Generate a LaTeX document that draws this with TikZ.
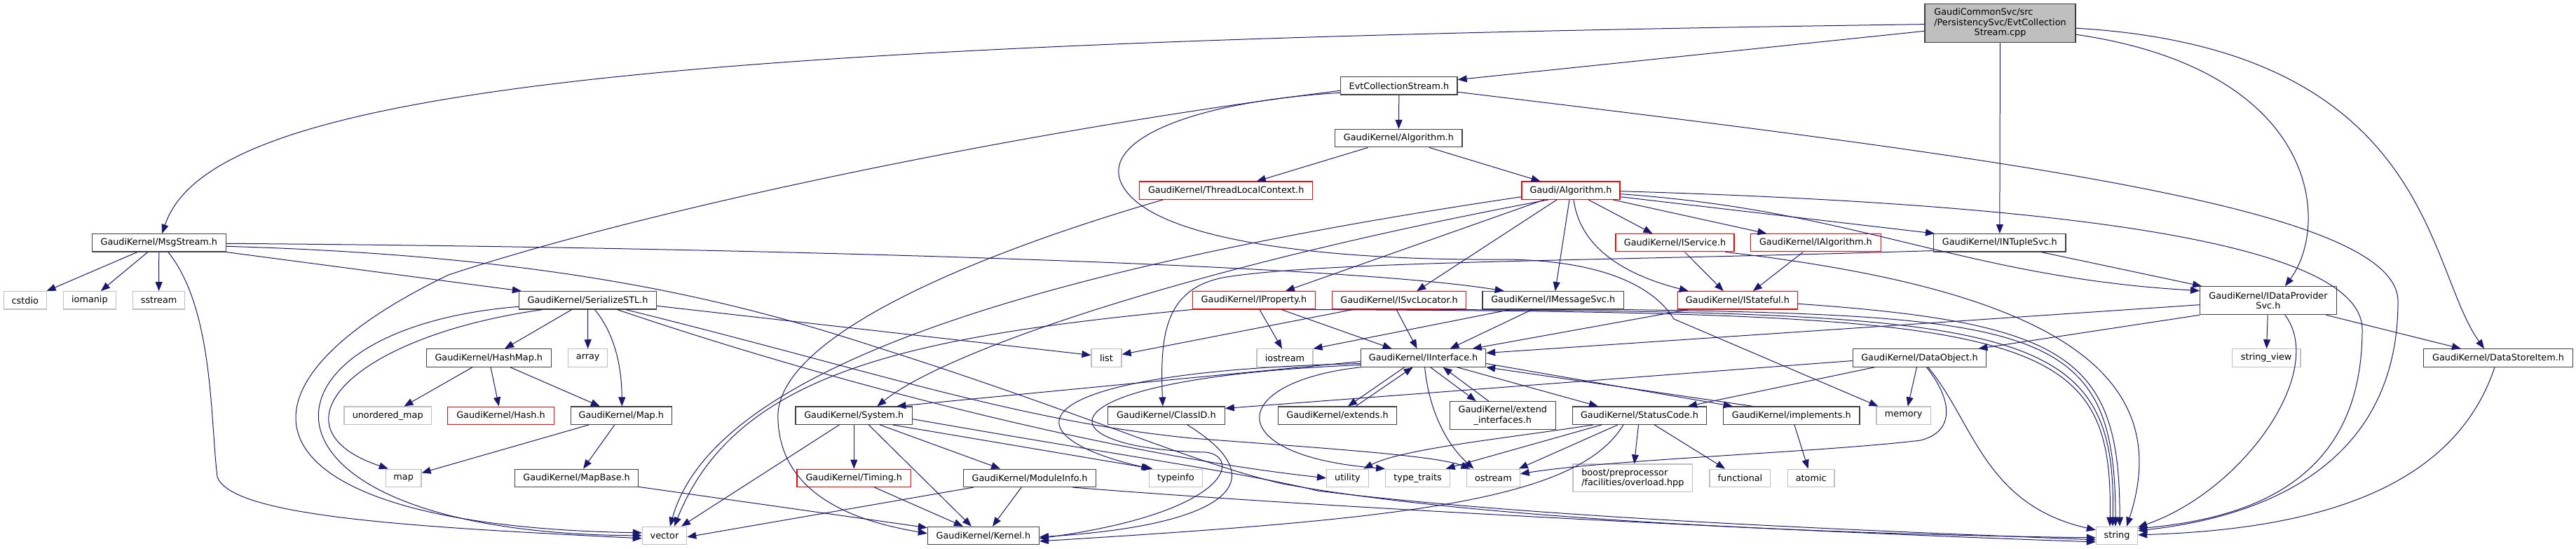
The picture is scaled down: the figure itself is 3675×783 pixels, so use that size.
\documentclass[tikz,border=0pt]{standalone}
\usepackage{fontspec}
\setmainfont{DejaVu Sans}
\usetikzlibrary{arrows.meta}
\definecolor{edgec}{HTML}{191970}
\definecolor{nodeb}{HTML}{404040}
\definecolor{redb}{HTML}{FF0000}
\definecolor{grayb}{HTML}{BFBFBF}
\definecolor{rootf}{HTML}{BFBFBF}
\begin{document}
\begin{tikzpicture}[x=1pt,y=-1pt,
  every node/.style={font=\fontsize{12.8}{14.6}\selectfont, inner sep=0pt, fill=white, text=black},
  w/.style={minimum width=#1, minimum height=25.3pt},
  nb/.style={draw=nodeb, line width=1.2pt},
  nr/.style={draw=redb, line width=1.1pt},
  ng/.style={draw=grayb, line width=1.2pt},
  e/.style={draw=edgec, line width=1pt, -{Triangle[length=13pt,width=10pt]}}]
\fill[white] (0,0) rectangle (3675,783);
\useasboundingbox (0,0) rectangle (3675,783);
% ---------- nodes ----------
\node[nb, fill=rootf, minimum width=215pt, minimum height=55pt] (root) at (2853.5,33.2)
  {\begin{tabular}{@{}l@{}}GaudiCommonSvc/src\\/PersistencySvc/EvtCollection\\\multicolumn{1}{@{}c@{}}{Stream.cpp}\end{tabular}};
\node[nb, w=166.3pt] (ecs) at (1995.9,122.3) {EvtCollectionStream.h};
\node[nb, w=181.2pt] (alg) at (1995.4,197.2) {GaudiKernel/Algorithm.h};
\node[nr, w=247.3pt] (tlc) at (1749.2,271.7) {GaudiKernel/ThreadLocalContext.h};
\node[nr, w=140pt] (galg) at (2241,271.7) {Gaudi/Algorithm.h};
\node[nb, w=191pt] (msg) at (226.8,346.3) {GaudiKernel/MsgStream.h};
\node[nr, w=169pt] (isvc) at (2389.5,346.3) {GaudiKernel/IService.h};
\node[nr, w=185.3pt] (ialg) at (2590.4,346.3) {GaudiKernel/IAlgorithm.h};
\node[nb, w=188.4pt] (ntup) at (2852.8,346.3) {GaudiKernel/INTupleSvc.h};
\node[ng, w=61.3pt] (cstdio) at (35.8,428.3) {cstdio};
\node[ng, w=74.8pt] (iomanip) at (127.9,428.3) {iomanip};
\node[ng, w=74.3pt] (sstream) at (226.6,428.3) {sstream};
\node[nb, w=196.1pt] (ser) at (838.5,428.3) {GaudiKernel/SerializeSTL.h};
\node[nr, w=174.9pt] (iprop) at (1788.9,428.3) {GaudiKernel/IProperty.h};
\node[nr, w=190.6pt] (isl) at (1996.1,428.3) {GaudiKernel/ISvcLocator.h};
\node[nb, w=201.4pt] (imsg) at (2215.7,428.3) {GaudiKernel/IMessageSvc.h};
\node[nr, w=171.5pt] (istat) at (2478.8,428.3) {GaudiKernel/IStateful.h};
\node[nb, minimum width=194.6pt, minimum height=40pt, align=center] (idp) at (3235.9,428.7) {GaudiKernel/IDataProvider\\Svc.h};
\node[nb, w=177.9pt] (hashmap) at (697.3,510.5) {GaudiKernel/HashMap.h};
\node[ng, w=55.7pt] (array) at (838.7,510.5) {array};
\node[ng, w=43pt] (list) at (1578.5,510.5) {list};
\node[ng, w=80pt] (iostream) at (1833,510.5) {iostream};
\node[nb, w=177.9pt] (iint) at (2030.6,510.5) {GaudiKernel/IInterface.h};
\node[nb, w=190.6pt] (dobj) at (2738.5,510.5) {GaudiKernel/DataObject.h};
\node[ng, w=97.8pt] (sview) at (3233.1,510.5) {string\_view};
\node[nb, w=212.7pt] (dsi) at (3564,510.5) {GaudiKernel/DataStoreItem.h};
\node[ng, w=124.3pt] (umap) at (553.2,592.7) {unordered\_map};
\node[nr, w=151.4pt] (hash) at (714.5,592.7) {GaudiKernel/Hash.h};
\node[nb, w=143.9pt] (mapH) at (886.3,592.7) {GaudiKernel/Map.h};
\node[nb, w=166.6pt] (sys) at (1218.3,592.7) {GaudiKernel/System.h};
\node[nb, w=166.8pt] (clid) at (1663.8,592.7) {GaudiKernel/ClassID.h};
\node[nb, w=169.3pt] (ext) at (1908,592.7) {GaudiKernel/extends.h};
\node[nb, minimum width=150.6pt, minimum height=39.6pt, align=center] (extif) at (2143.8,592.5) {GaudiKernel/extend\\\_interfaces.h};
\node[nb, w=191.1pt] (stc) at (2338.9,592.7) {GaudiKernel/StatusCode.h};
\node[nb, w=194.5pt] (impl) at (2555.8,592.7) {GaudiKernel/implements.h};
\node[ng, w=77.3pt] (memory) at (2715.7,592.7) {memory};
\node[ng, w=50.6pt] (mapstd) at (575.7,681.8) {map};
\node[nb, w=175.6pt] (mapbase) at (822.6,681.8) {GaudiKernel/MapBase.h};
\node[nr, w=162.6pt] (timing) at (1218.3,681.8) {GaudiKernel/Timing.h};
\node[nb, w=189.4pt] (modinfo) at (1469.1,681.8) {GaudiKernel/ModuleInfo.h};
\node[ng, w=75.9pt] (typeinfo) at (1677.3,681.8) {typeinfo};
\node[ng, w=59.7pt] (utility) at (1922.4,681.8) {utility};
\node[ng, w=91.8pt] (ttraits) at (2022.6,681.8) {type\_traits};
\node[ng, w=75.5pt] (ostream) at (2130.4,681.8) {ostream};
\node[ng, minimum width=170.5pt, minimum height=39.7pt, align=left] (boost) at (2329.3,681.9) {boost/preprocessor\\/facilities/overload.hpp};
\node[ng, w=86.7pt] (functional) at (2482.4,681.8) {functional};
\node[ng, w=66.7pt] (atomic) at (2583.7,681.8) {atomic};
\node[ng, w=63.3pt] (vector) at (948,763.9) {vector};
\node[nb, w=158.9pt] (kernel) at (1402.9,763.9) {GaudiKernel/Kernel.h};
\node[ng, w=59.1pt] (string) at (3020,763.9) {string};
% ---------- edges ----------
% root
\draw[e] (root) .. controls (900,60) and (300,130) .. (msg);
\draw[e] (root) -- (ecs);
\draw[e] (root) -- (ntup);
\draw[e] ([yshift=-16pt]root.east) .. controls (3310,100) and (3325,320) .. ([xshift=24pt]idp.north);
\draw[e] ([yshift=-7pt]root.east) .. controls (3470,70) and (3460,380) .. ([xshift=-20pt]dsi.north);
% EvtCollectionStream.h
\draw[e] (ecs) -- (alg);
\draw[e] ([yshift=-9pt]ecs.east) .. controls (2900,230) and (3421,300) .. (3421,430) .. controls (3421,650) and (3250,735) .. ([yshift=7pt]string.east);
\draw[e] ([yshift=-7pt]ecs.west) .. controls (1500,180) and (950,290) .. (640,392) .. controls (290,560) and (350,750) .. ([yshift=4pt]vector.west);
\draw[e] ([yshift=-10pt]ecs.west) .. controls (1700,145) and (1570,200) .. (1600,262) .. controls (1640,345) and (1900,372) .. (2150,370) .. controls (2290,372) and (2360,410) .. (2388,455) -- ([xshift=3pt]memory.north west);
% GaudiKernel/Algorithm.h
\draw[e] (alg) -- (tlc);
\draw[e] (alg) -- (galg);
% ThreadLocalContext
\draw[e] ([xshift=-90pt]tlc.south) .. controls (1400,360) and (1100,480) .. (1110,600) .. controls (1115,720) and (1250,748) .. ([yshift=3pt]kernel.west);
% Gaudi/Algorithm.h
\draw[e] ([yshift=-9pt]galg.west) .. controls (1500,380) and (1020,520) .. ([xshift=8pt]vector.north);
\draw[e] ([xshift=-32pt]galg.south) .. controls (1700,380) and (1350,500) .. ([xshift=33pt]sys.north);
\draw[e] ([xshift=-38pt]galg.south) -- ([xshift=45pt]iprop.north);
\draw[e] ([xshift=-20pt]galg.south) -- ([xshift=25pt]isl.north);
\draw[e] ([xshift=-2pt]galg.south) -- ([xshift=3pt]imsg.north);
\draw[e] ([xshift=4pt]galg.south) .. controls (2255,360) and (2330,395) .. ([xshift=-70pt]istat.north);
\draw[e] ([xshift=25pt]galg.south) -- ([xshift=-32pt]isvc.north);
\draw[e] ([xshift=60pt]galg.south) -- ([xshift=-70pt]ialg.north);
\draw[e] ([yshift=-9pt]galg.east) -- ([xshift=2pt]ntup.north west);
\draw[e] ([yshift=-1pt]galg.east) .. controls (2900,290) and (3370,340) .. (3370,470) .. controls (3370,680) and (3220,738) .. ([yshift=10pt]string.east);
\draw[e] ([yshift=-5pt]galg.east) .. controls (2650,300) and (2800,395) .. ([yshift=14pt]idp.west);
% MsgStream.h
\draw[e] (msg) -- (cstdio);
\draw[e] (msg) -- (iomanip);
\draw[e] (msg) -- (sstream);
\draw[e] ([xshift=13pt]msg.south) .. controls (305,440) and (300,600) .. (310,680) .. controls (330,738) and (600,752) .. ([yshift=-4pt]vector.west);
\draw[e] (msg.south east) -- ([xshift=4pt]ser.north west);
\draw[e] ([yshift=-1pt]msg.east) .. controls (1000,352) and (1900,375) .. ([xshift=-70pt]imsg.north);
\draw[e] ([yshift=-5pt]msg.east) .. controls (800,365) and (1050,430) .. (1250,495) .. controls (1550,590) and (1700,660) .. (1830,690) .. controls (2100,740) and (2600,762) .. ([yshift=-3pt]string.west);
% SerializeSTL.h
\draw[e] (ser) -- (hashmap);
\draw[e] (ser) -- (array);
\draw[e] ([xshift=10pt]ser.south) .. controls (880,480) and (887,530) .. ([xshift=1pt]mapH.north);
\draw[e] ([yshift=-8pt]ser.east) -- ([yshift=4pt]list.west);
\draw[e] ([xshift=-64pt]ser.south) .. controls (500,480) and (380,610) .. ([xshift=4pt]mapstd.north west);
\draw[e] ([yshift=-9pt]ser.west) .. controls (340,470) and (330,760) .. (vector.west);
\draw[e] ([xshift=54pt]ser.south) .. controls (1250,530) and (1450,600) .. (1700,625) .. controls (1900,640) and (2050,650) .. ([xshift=-33pt]ostream.north);
\draw[e] ([xshift=42pt]ser.south) .. controls (1200,550) and (1600,650) .. (utility.west);
% HashMap.h, Map.h, MapBase.h
\draw[e] (hashmap) -- (umap);
\draw[e] (hashmap) -- (hash);
\draw[e] (hashmap) -- (mapH);
\draw[e] (mapH) -- (mapstd);
\draw[e] (mapH) -- (mapbase);
\draw[e] (mapbase) -- (kernel);
% IProperty.h
\draw[e] (iprop.south west) .. controls (1300,480) and (1050,530) .. ([xshift=14pt]vector.north);
\draw[e] ([xshift=8pt]iprop.south) -- ([xshift=-4pt]iostream.north);
\draw[e] ([xshift=39pt]iprop.south) -- ([xshift=-45pt]iint.north);
\draw[e] ([xshift=55pt]iprop.south) .. controls (2900,445) and (3015,465) .. ([xshift=-10pt]string.north);
% ISvcLocator.h
\draw[e] ([xshift=-66pt]isl.south) -- ([yshift=5pt]list.east);
\draw[e] ([xshift=-4pt]isl.south) -- ([xshift=-9pt]iint.north);
\draw[e] ([xshift=59pt]isl.south) .. controls (2900,445) and (3020,470) .. ([xshift=-6pt]string.north);
% IMessageSvc.h
\draw[e] ([xshift=-61pt]imsg.south) -- (iostream.north east);
\draw[e] ([xshift=-30pt]imsg.south) -- ([xshift=38pt]iint.north);
\draw[e] (imsg.south east) .. controls (2920,450) and (3018,470) .. ([xshift=-2pt]string.north);
% IService.h, IAlgorithm.h, IStateful.h
\draw[e] ([xshift=14pt]isvc.south) -- ([xshift=-20pt]istat.north);
\draw[e] ([xshift=72pt]isvc.south) .. controls (2900,410) and (3110,520) .. ([xshift=14pt]string.north);
\draw[e] ([xshift=-18pt]ialg.south) -- ([xshift=22pt]istat.north);
\draw[e] ([xshift=-70pt]istat.south) -- ([xshift=70pt]iint.north);
\draw[e] ([yshift=-5pt]istat.east) .. controls (2950,460) and (3025,510) .. ([xshift=4pt]string.north);
% IDataProviderSvc.h
\draw[e] ([yshift=-6pt]idp.west) -- ([yshift=7pt]iint.east);
\draw[e] (idp.south west) -- ([xshift=-12pt]dobj.north east);
\draw[e] (idp) -- (sview);
\draw[e] ([xshift=24pt]idp.south) .. controls (3320,530) and (3200,700) .. ([yshift=12pt]string.east);
\draw[e] (idp) -- (dsi);
\draw[e] ([xshift=-5pt]dsi.south) .. controls (3500,700) and (3300,755) .. ([yshift=1pt]string.east);
% INTupleSvc.h
\draw[e] ([xshift=59pt]ntup.south) -- ([xshift=3pt]idp.north west);
\draw[e] ([yshift=2pt]ntup.south west) .. controls (2300,372) and (1900,372) .. (1750,395) .. controls (1660,410) and (1655,480) .. ([xshift=-5pt]clid.north);
% IInterface.h
\draw[e] ([yshift=-5pt]iint.west) -- ([xshift=61pt]sys.north);
\draw[e] ([yshift=-8pt]iint.west) .. controls (1450,530) and (1430,620) .. ([xshift=-36pt]typeinfo.north);
\draw[e] ([yshift=-10pt]iint.west) .. controls (1470,540) and (1480,640) .. (1720,645) .. controls (1770,650) and (1760,730) .. ([yshift=-4pt]kernel.east);
\draw[e] (iint.south west) .. controls (1750,545) and (1740,650) .. (ttraits.north west);
\draw[e] ([xshift=2pt]iint.south) .. controls (2038,580) and (2060,630) .. ([xshift=-28pt]ostream.north);
\draw[e] ([xshift=48pt]iint.south) -- ([xshift=-59pt]stc.north);
\draw[e] ([xshift=-27pt]iint.south) -- ([xshift=15pt]ext.north);
\draw[e] ([xshift=26pt]ext.north) -- ([xshift=-15pt]iint.south);
\draw[e] ([xshift=10pt]iint.south) -- ([xshift=-38pt]extif.north);
\draw[e] ([xshift=-20pt]extif.north) -- ([xshift=28pt]iint.south);
\draw[e] ([yshift=-8pt]iint.east) -- ([xshift=-84pt]impl.north);
\draw[e] ([xshift=-55pt]impl.north) -- (iint.south east);
\draw[e] (impl) -- (atomic);
% StatusCode.h
\draw[e] ([xshift=-66pt]stc.south) .. controls (2150,625) and (2000,640) .. ([xshift=23pt]utility.north);
\draw[e] ([xshift=-54pt]stc.south) -- ([xshift=40pt]ttraits.north);
\draw[e] ([xshift=-31pt]stc.south) -- ([xshift=-2pt]ostream.north east);
\draw[e] ([xshift=-23pt]stc.south) .. controls (2250,715) and (2000,740) .. ([yshift=-8pt]kernel.east);
\draw[e] (stc) -- (boost);
\draw[e] (stc) -- (functional);
% DataObject.h
\draw[e] ([yshift=-4pt]dobj.west) -- ([yshift=-3pt]clid.north east);
\draw[e] ([xshift=-64pt]dobj.south) -- ([xshift=69pt]stc.north);
\draw[e] ([xshift=-4pt]dobj.south) -- ([xshift=6pt]memory.north);
\draw[e] ([xshift=10pt]dobj.south) .. controls (2785,570) and (2790,615) .. (2740,628) .. controls (2600,645) and (2300,655) .. ([yshift=6pt]ostream.east);
\draw[e] ([xshift=12pt]dobj.south) .. controls (2815,600) and (2830,720) .. ([yshift=8pt]string.west);
% ClassID.h
\draw[e] ([xshift=30pt]clid.south) .. controls (1830,690) and (1740,750) .. ([yshift=-2pt]kernel.east);
% System.h
\draw[e] (sys) -- (timing);
\draw[e] ([xshift=21pt]sys.south) -- ([xshift=-17pt]kernel.north);
\draw[e] ([xshift=37pt]sys.south) -- ([xshift=-42pt]modinfo.north);
\draw[e] ([xshift=55pt]sys.south) -- ([xshift=-33pt]typeinfo.north);
\draw[e] ([yshift=-5pt]sys.east) .. controls (1600,650) and (1780,675) .. (1880,700) .. controls (2200,740) and (2700,758) .. ([yshift=-6pt]string.west);
\draw[e] ([xshift=-21pt]sys.south) -- ([xshift=24pt]vector.north);
% Timing.h, ModuleInfo.h
\draw[e] ([xshift=29pt]timing.south) -- ([xshift=-29pt]kernel.north);
\draw[e] ([xshift=-12pt]modinfo.south) -- ([xshift=13pt]kernel.north);
\draw[e] ([xshift=15pt]modinfo.south west) -- ([yshift=-2pt]vector.east);
\draw[e] ([xshift=61pt]modinfo.south) .. controls (1900,725) and (2600,760) .. ([yshift=-9pt]string.west);
\end{tikzpicture}
\end{document}
